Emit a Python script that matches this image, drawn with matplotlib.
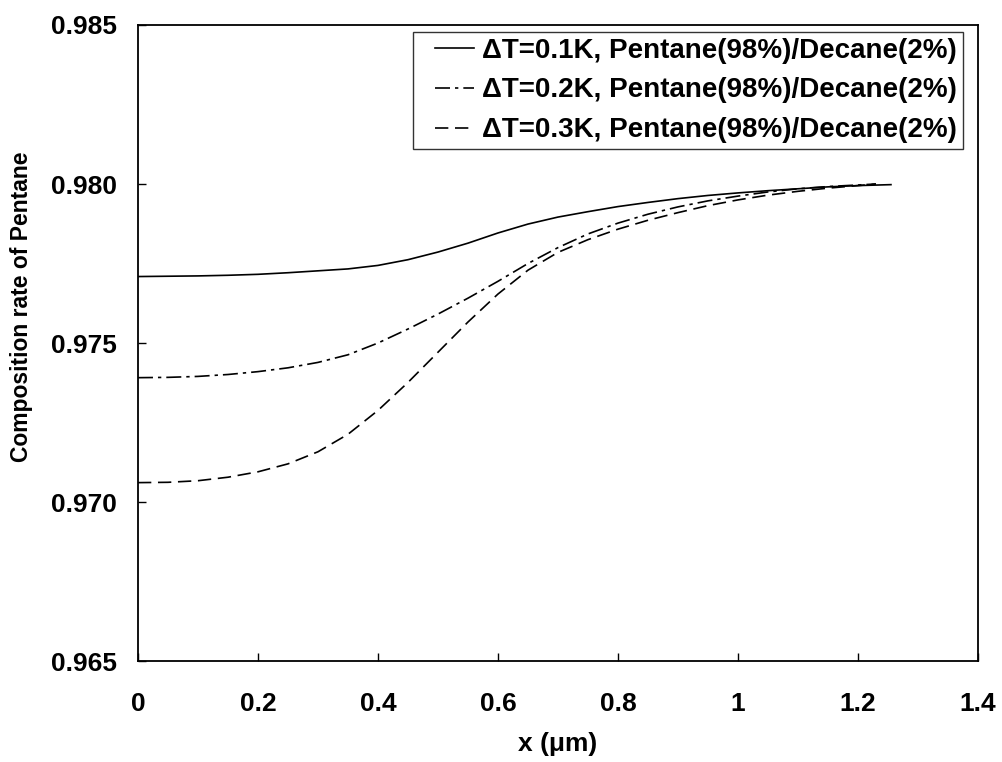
import matplotlib
matplotlib.use("Agg")
import matplotlib.pyplot as plt
from matplotlib.legend_handler import HandlerLine2D

plt.rcParams['font.family'] = ['Liberation Sans', 'DejaVu Sans']
plt.rcParams['font.weight'] = 'bold'

x_solid = [0.0, 0.05, 0.1, 0.15, 0.2, 0.25, 0.3, 0.35, 0.4, 0.45, 0.5, 0.55, 0.6, 0.65,
           0.7, 0.75, 0.8, 0.85, 0.9, 0.95, 1.0, 1.05, 1.1, 1.15, 1.2, 1.255]
y_dt01 = [0.97709, 0.97710, 0.97711, 0.97713, 0.97716, 0.97721, 0.97727, 0.97733, 0.97744,
          0.97762, 0.97786, 0.97814, 0.97846, 0.97874, 0.97896, 0.97913, 0.97929, 0.97942,
          0.97954, 0.97964, 0.97972, 0.97979, 0.97985, 0.97991, 0.97995, 0.97998]

x_other = [0.0, 0.05, 0.1, 0.15, 0.2, 0.25, 0.3, 0.35, 0.4, 0.45, 0.5, 0.55, 0.6, 0.65,
           0.7, 0.75, 0.8, 0.85, 0.9, 0.95, 1.0, 1.05, 1.1, 1.15, 1.2, 1.23]
y_dt02 = [0.97391, 0.97392, 0.97395, 0.97401, 0.97410, 0.97422, 0.97439, 0.97463, 0.97500,
          0.97544, 0.97591, 0.97641, 0.97694, 0.97750, 0.97800, 0.97843, 0.97877, 0.97905,
          0.97928, 0.97947, 0.97962, 0.97975, 0.97985, 0.97992, 0.97997, 0.98000]
y_dt03 = [0.97061, 0.97062, 0.97067, 0.97078, 0.97095, 0.97120, 0.97158, 0.97213, 0.97288,
          0.97376, 0.97471, 0.97566, 0.97654, 0.97729, 0.97785, 0.97825, 0.97858, 0.97886,
          0.97910, 0.97932, 0.97950, 0.97965, 0.97977, 0.97987, 0.97995, 0.98000]

labels = ["ΔT=0.1K, Pentane(98%)/Decane(2%)",
          "ΔT=0.2K, Pentane(98%)/Decane(2%)",
          "ΔT=0.3K, Pentane(98%)/Decane(2%)"]

x_ticks = [0, 0.2, 0.4, 0.6, 0.8, 1.0, 1.2, 1.4]
x_ticklabels = ["0", "0.2", "0.4", "0.6", "0.8", "1", "1.2", "1.4"]
y_ticks = [0.965, 0.970, 0.975, 0.980, 0.985]
y_ticklabels = ["0.965", "0.970", "0.975", "0.980", "0.985"]


class ShiftedHandler(HandlerLine2D):
    def create_artists(self, legend, orig_handle, xdescent, ydescent, width, height,
                       fontsize, trans):
        shift = width * 0.3
        return super().create_artists(legend, orig_handle, xdescent - shift, ydescent,
                                      width - shift, height, fontsize, trans)


fig = plt.figure(figsize=(10.02, 7.62), dpi=100)
ax = fig.add_axes([0.1377, 0.1325, 0.976 - 0.1377, 0.9672 - 0.1325])

l1, = ax.plot(x_solid, y_dt01, color='black', lw=1.2, ls='-', label=labels[0])
l2, = ax.plot(x_other, y_dt02, color='black', lw=1.2, dashes=(9, 3, 2, 3), label=labels[1])
l3, = ax.plot(x_other, y_dt03, color='black', lw=1.2, dashes=(8, 4), label=labels[2])

ax.set_xlim(0, 1.4)
ax.set_ylim(0.965, 0.985)
ax.set_xticks(x_ticks)
ax.set_xticklabels(x_ticklabels)
ax.set_yticks(y_ticks)
ax.set_yticklabels(y_ticklabels)
ax.tick_params(direction='in', length=6, width=1, labelsize=19, colors='black')
ax.tick_params(axis='x', pad=22)
ax.tick_params(axis='y', pad=15)
for lab in ax.get_xticklabels() + ax.get_yticklabels():
    lab.set_fontweight('bold')
for s in ax.spines.values():
    s.set_linewidth(1.3)
    s.set_color('black')

ax.set_xlabel("x (μm)", fontsize=19, fontweight='bold', labelpad=12)
ax.set_ylabel("Composition rate of Pentane", fontsize=16.5, fontweight='bold')
ax.yaxis.set_label_coords(-0.125, 0.5575)

h = ShiftedHandler()
leg = ax.legend(handles=[l1, l2, l3], loc='upper right', bbox_to_anchor=(0.982, 0.989),
                prop={'weight': 'bold', 'size': 20}, frameon=True, fancybox=False,
                edgecolor='black', handlelength=2.0, handletextpad=0.3,
                labelspacing=0.5, borderpad=0.2, borderaxespad=0,
                handler_map={l1: h, l2: h, l3: h})
leg.get_frame().set_linewidth(1.0)

fig.savefig("out.png", dpi=100, facecolor='white')
